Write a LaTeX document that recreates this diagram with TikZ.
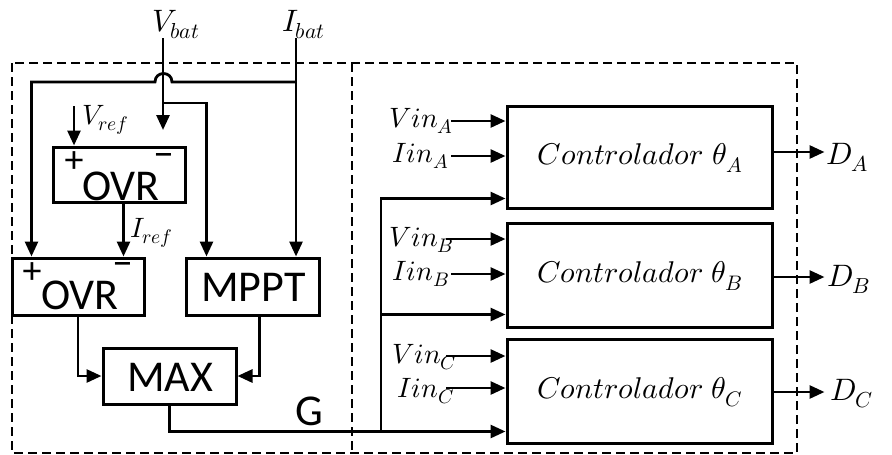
\documentclass[tikz,border=0pt]{standalone}
\usepackage{fontspec}
\usepackage{unicode-math}
\setmathfont{Latin Modern Math}
\newfontfamily\sansf{Carlito}
\usetikzlibrary{arrows.meta,calc}
\begin{document}
\begin{tikzpicture}[x=1pt,y=-1pt,
  wire/.style={line width=2.8pt},
  arr/.style={wire,-{Triangle[length=15pt,width=13pt]}},
  blk/.style={draw,line width=3pt,inner sep=0pt},
  sanstxt/.style={font=\sansf\fontsize{44}{50}\selectfont,inner sep=0pt},
  sgn/.style={font=\sansf\fontsize{38}{42}\selectfont,inner sep=0pt},
  mns/.style={font=\sansf\fontsize{42}{46}\selectfont,inner sep=0pt},
  mlab/.style={font=\fontsize{31}{36}\selectfont,inner sep=0pt,anchor=base west},
  inlab/.style={font=\fontsize{28}{33}\selectfont,inner sep=0pt,anchor=base west},
  ctl/.style={font=\fontsize{30}{35}\selectfont,inner sep=0pt},
  frame/.style={line width=1.4pt,dash pattern=on 9pt off 5pt}]
\useasboundingbox (0,0) rectangle (892,455);
% frames
\draw[frame] (12,63) rectangle (797,453);
\draw[frame] (352,63) -- (352,453);
% blocks
\node[blk,minimum width=132pt,minimum height=55pt] (o1) at (119,174.5) {};
\node[blk,minimum width=132pt,minimum height=57pt] (o2) at (78,286.5) {};
\node[blk,minimum width=133pt,minimum height=57pt] (mp) at (252.5,286.5) {};
\node[blk,minimum width=133pt,minimum height=56pt] (mx) at (169.5,376) {};
\node[blk,minimum width=265pt,minimum height=102pt] (cA) at (639.5,157) {};
\node[blk,minimum width=265pt,minimum height=104pt] (cB) at (639.5,275) {};
\node[blk,minimum width=265pt,minimum height=104pt] (cC) at (639.5,391) {};
% block texts
\node[sanstxt] (t1) at (121,186) {OVR};
\node[sgn] (p1) at (74,162) {+};
\node[mns] (m1) at (164,160) {–};
\node[sanstxt] (t2) at (80,295) {OVR};
\node[sgn] (p2) at (32,273) {+};
\node[mns] (m2) at (123,269) {–};
\node[sanstxt] (t3) at (253.5,287) {MPPT};
\node[sanstxt] (t4) at (170,377) {MAX};
\node[sanstxt] (tg) at (309,411) {G};
\node[ctl] (tA) at (640,158) {$Controlador\;\theta_A$};
\node[ctl] (tB) at (640,276) {$Controlador\;\theta_B$};
\node[ctl] (tC) at (640,392) {$Controlador\;\theta_C$};
% top labels
\node[mlab] (lvb) at (152,31) {$V_{bat}$};
\node[mlab] (lib) at (282,31) {$I_{bat}$};
\node[inlab] (lvr) at (82,124) {$V_{ref}$};
\node[inlab] (lir) at (130,237) {$I_{ref}$};
% coordinates
\coordinate (vbt) at (163,38);
\coordinate (vbe) at (163,130);
\coordinate (j1) at (163,103);
\coordinate (ibt) at (296,38);
\coordinate (j2) at (296,82);
\coordinate (mpin) at ($(mp.north west)+(22,0)$);
\coordinate (o2p) at ($(o2.north west)+(21,0)$);
\coordinate (vr) at (74,106);
\coordinate (ir) at ($(o1.south west)+(72,0)$);
\coordinate (mpo) at ($(mp.south)+(7,0)$);
% left wiring
\draw[arr] (vbt) -- (vbe);
\draw[arr] (j1) -| (mpin);
\draw[arr] (ibt) -- (ibt |- mp.north);
\draw[arr] (j2) -- (172,82) .. controls (172,70.7) and (155,70.7) .. (155,82) -- (o2p |- j2) -- (o2p);
\draw[arr] (vr) -- (vr |- o1.north);
\draw[arr] (ir) -- (ir |- o2.north);
\draw[arr] (o2.south) |- (mx.west);
\draw[arr] (mpo) |- (mx.east);
% G bus
\coordinate (gA) at ($(cA.south west)+(0,-11)$);
\coordinate (gB) at ($(cB.south west)+(0,-14)$);
\coordinate (gC) at ($(cC.south west)+(0,-13)$);
\coordinate (bx) at (381,430);
\draw[arr] (mx.south) |- (gC);
\draw[arr] (bx) |- (gA);
\draw[arr] (bx |- gB) -- (gB);
% inputs
\node[inlab] (lvA) at (389,127) {$Vin_A$};
\node[inlab] (liA) at (392,162) {$Iin_A$};
\node[inlab] (lvB) at (389,246) {$Vin_B$};
\node[inlab] (liB) at (392,280) {$Iin_B$};
\node[inlab] (lvC) at (392,363) {$Vin_C$};
\node[inlab] (liC) at (397,397) {$Iin_C$};
\coordinate (ivA) at (451,121);
\coordinate (iiA) at (451,156);
\coordinate (ivB) at (446,239);
\coordinate (iiB) at (451,274);
\coordinate (ivC) at (446,356);
\coordinate (iiC) at (446,388);
\draw[arr] (ivA) -- (ivA -| cA.west);
\draw[arr] (iiA) -- (iiA -| cA.west);
\draw[arr] (ivB) -- (ivB -| cB.west);
\draw[arr] (iiB) -- (iiB -| cB.west);
\draw[arr] (ivC) -- (ivC -| cC.west);
\draw[arr] (iiC) -- (iiC -| cC.west);
% outputs
\coordinate (oA) at ($(cA.east)+(0,-5)$);
\coordinate (oB) at ($(cB.east)+(0,2)$);
\coordinate (oC) at ($(cC.east)+(0,1)$);
\draw[arr] (oA) -- ++(51,0);
\draw[arr] (oB) -- ++(51,0);
\draw[arr] (oC) -- ++(51,0);
\node[mlab] (dA) at (826,164) {$D_A$};
\node[mlab] (dB) at (827,286) {$D_B$};
\node[mlab] (dC) at (830,400) {$D_C$};
\end{tikzpicture}
\end{document}
